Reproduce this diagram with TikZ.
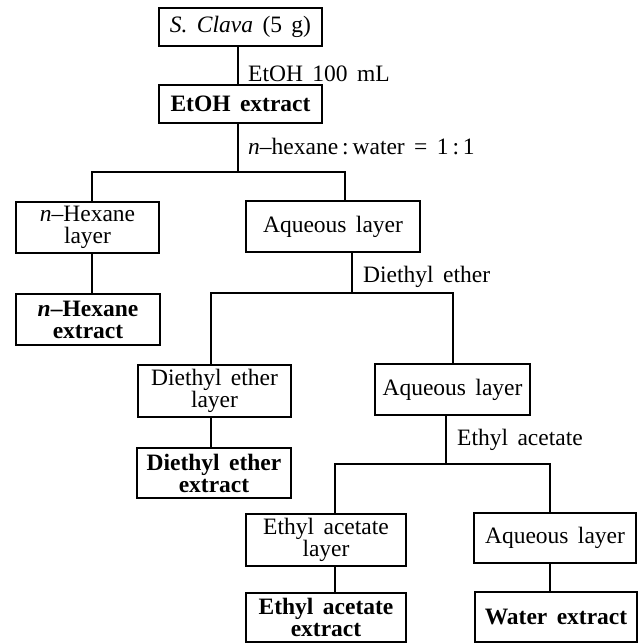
\documentclass[tikz,border=0pt]{standalone}
\usepackage{fontspec}
\setmainfont{Liberation Serif}[WordSpace=1.6]
\begin{document}
\begin{tikzpicture}[x=1pt,y=-1pt,
  txt/.style={font=\fontsize{23.5}{22}\selectfont},
  box/.style={txt, draw=black, line width=1.1pt, inner sep=0pt, align=center},
  lbl/.style={txt, inner sep=0pt, anchor=base west},
  conn/.style={draw=black, line width=1.1pt}]
\useasboundingbox (0,0) rectangle (641,644);
% boxes
\node[box, minimum width=163pt, minimum height=38pt] (clava) at (240.5,27) {\textit{S.\ Clava} (5 g)};
\node[box, minimum width=163pt, minimum height=38pt] (etoh) at (240.5,104) {\textbf{EtOH extract}};
\node[box, minimum width=143pt, minimum height=51pt] (hexl) at (87.5,227.5) {\textit{n}–Hexane\\layer};
\node[box, minimum width=174pt, minimum height=51pt] (aqa) at (333,226.5) {Aqueous layer};
\node[box, minimum width=144pt, minimum height=51pt] (hexe) at (88,319.5) {\textbf{\textit{n}–Hexane}\\\textbf{extract}};
\node[box, minimum width=153pt, minimum height=52pt] (del) at (214.5,391) {Diethyl ether\\layer};
\node[box, minimum width=155pt, minimum height=51pt] (aqb) at (452.5,389.5) {Aqueous layer};
\node[box, minimum width=154pt, minimum height=50pt] (dee) at (214,473) {\textbf{Diethyl ether}\\\textbf{extract}};
\node[box, minimum width=160pt, minimum height=52pt] (eal) at (326,540) {Ethyl acetate\\layer};
\node[box, minimum width=162pt, minimum height=50pt] (aqc) at (555,538) {Aqueous layer};
\node[box, minimum width=160pt, minimum height=49pt] (eae) at (326,617.5) {\textbf{Ethyl acetate}\\\textbf{extract}};
\node[box, minimum width=162pt, minimum height=50pt] (wat) at (556,617) {\textbf{Water extract}};
% junction coordinates
\coordinate (ja) at (238,172);
\coordinate (bal) at (92,172);
\coordinate (bar) at (345,172);
\coordinate (jb) at (352,293);
\coordinate (bbl) at (211,293);
\coordinate (bbr) at (453,293);
\coordinate (jc) at (446,464);
\coordinate (bcl) at (335,464);
\coordinate (bcr) at (550,464);
% connectors
\draw[conn] (clava.south -| ja) -- (etoh.north -| ja);
\draw[conn] (etoh.south -| ja) -- (ja);
\draw[conn] (hexl.north -| bal) -- (bal) -- (bar) -- (aqa.north -| bar);
\draw[conn] (hexl.south -| bal) -- (hexe.north -| bal);
\draw[conn] (aqa.south -| jb) -- (jb);
\draw[conn] (del.north -| bbl) -- (bbl) -- (bbr) -- (aqb.north -| bbr);
\draw[conn] (del.south -| bbl) -- (dee.north -| bbl);
\draw[conn] (aqb.south -| jc) -- (jc);
\draw[conn] (eal.north -| bcl) -- (bcl) -- (bcr) -- (aqc.north -| bcr);
\draw[conn] (eal.south -| bcl) -- (eae.north -| bcl);
\draw[conn] (aqc.south -| bcr) -- (wat.north -| bcr);
% labels
\node[lbl] (l1) at (248,82) {EtOH 100 mL};
\node[lbl] (l2) at (248,155) {\textit{n}–hexane\,:\,water = 1\,:\,1};
\node[lbl] (l3) at (363,282) {Diethyl ether};
\node[lbl] (l4) at (457,445) {Ethyl acetate};
\end{tikzpicture}
\end{document}
